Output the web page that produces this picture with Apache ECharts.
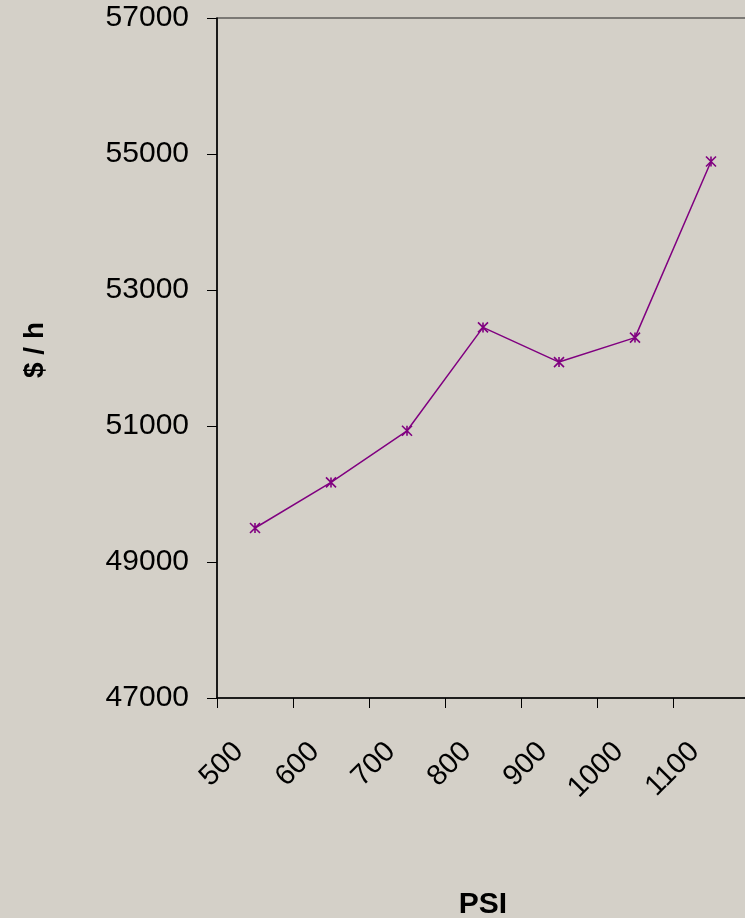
<!DOCTYPE html>
<html>
<head>
<meta charset="utf-8">
<title>$ / h vs PSI</title>
<script src="https://cdn.jsdelivr.net/npm/echarts@6/dist/echarts.min.js"></script>
<style>
  html, body { margin: 0; padding: 0; background: #D4D0C8; }
  #chart { width: 745px; height: 918px; }
</style>
</head>
<body>
<div id="chart"></div>
<script>
// Pressure categories (PSI) and hourly cost ($ / h)
const psiLabels = ['500', '600', '700', '800', '900', '1000', '1100'];
const costPerHour = [49500, 50170, 50930, 52450, 51940, 52300, 54890];
const yMin = 47000;
const yMax = 57000;
const yStep = 2000;

const FONT = '"Liberation Sans", Arial, sans-serif';
const PURPLE = '#800080';

const chart = echarts.init(document.getElementById('chart'), null, { renderer: 'canvas' });

chart.setOption({
  backgroundColor: '#D4D0C8',
  animation: false,
  textStyle: { fontFamily: FONT, color: '#000' },
  grid: {
    left: 217,
    top: 18,
    width: 532,
    height: 680,
    outerBoundsMode: 'none',
    containLabel: false,
    show: true,
    backgroundColor: 'transparent',
    borderColor: '#222',
    borderWidth: 1.2
  },
  xAxis: {
    type: 'category',
    data: psiLabels,
    boundaryGap: true,
    name: 'PSI',
    nameLocation: 'middle',
    nameGap: 192,
    nameTextStyle: { fontFamily: FONT, fontSize: 30, fontWeight: 'bold', color: '#000' },
    axisLine: { show: true, lineStyle: { color: '#000', width: 1.5 } },
    axisTick: { show: true, inside: false, length: 10, alignWithLabel: false, lineStyle: { color: '#000', width: 1 } },
    axisLabel: {
      interval: 0,
      rotate: 45,
      margin: 33,
      padding: [0, 23, 0, 0],
      fontFamily: FONT,
      fontSize: 29,
      color: '#000'
    },
    splitLine: { show: false }
  },
  yAxis: {
    type: 'value',
    min: yMin,
    max: yMax,
    interval: yStep,
    name: '$ / h',
    nameLocation: 'middle',
    nameRotate: 90,
    nameGap: 168,
    nameTextStyle: { fontFamily: FONT, fontSize: 28, fontWeight: 'bold', color: '#000', padding: [0, 0, 0, 16] },
    axisLine: { show: true, lineStyle: { color: '#000', width: 1.5 } },
    axisTick: { show: true, inside: false, length: 10, lineStyle: { color: '#000', width: 1 } },
    axisLabel: {
      margin: 28,
      fontFamily: FONT,
      fontSize: 30,
      color: '#000',
      formatter: (v) => String(v)
    },
    splitLine: { show: false }
  },
  series: [{
    type: 'line',
    data: costPerHour,
    symbol: 'path://M0,0L10,10M10,0L0,10M5,0L5,10',
    symbolSize: 10,
    showAllSymbol: true,
    lineStyle: { color: PURPLE, width: 1.5 },
    itemStyle: { color: 'transparent', borderColor: PURPLE, borderWidth: 1.6 }
  }]
});
</script>
</body>
</html>
